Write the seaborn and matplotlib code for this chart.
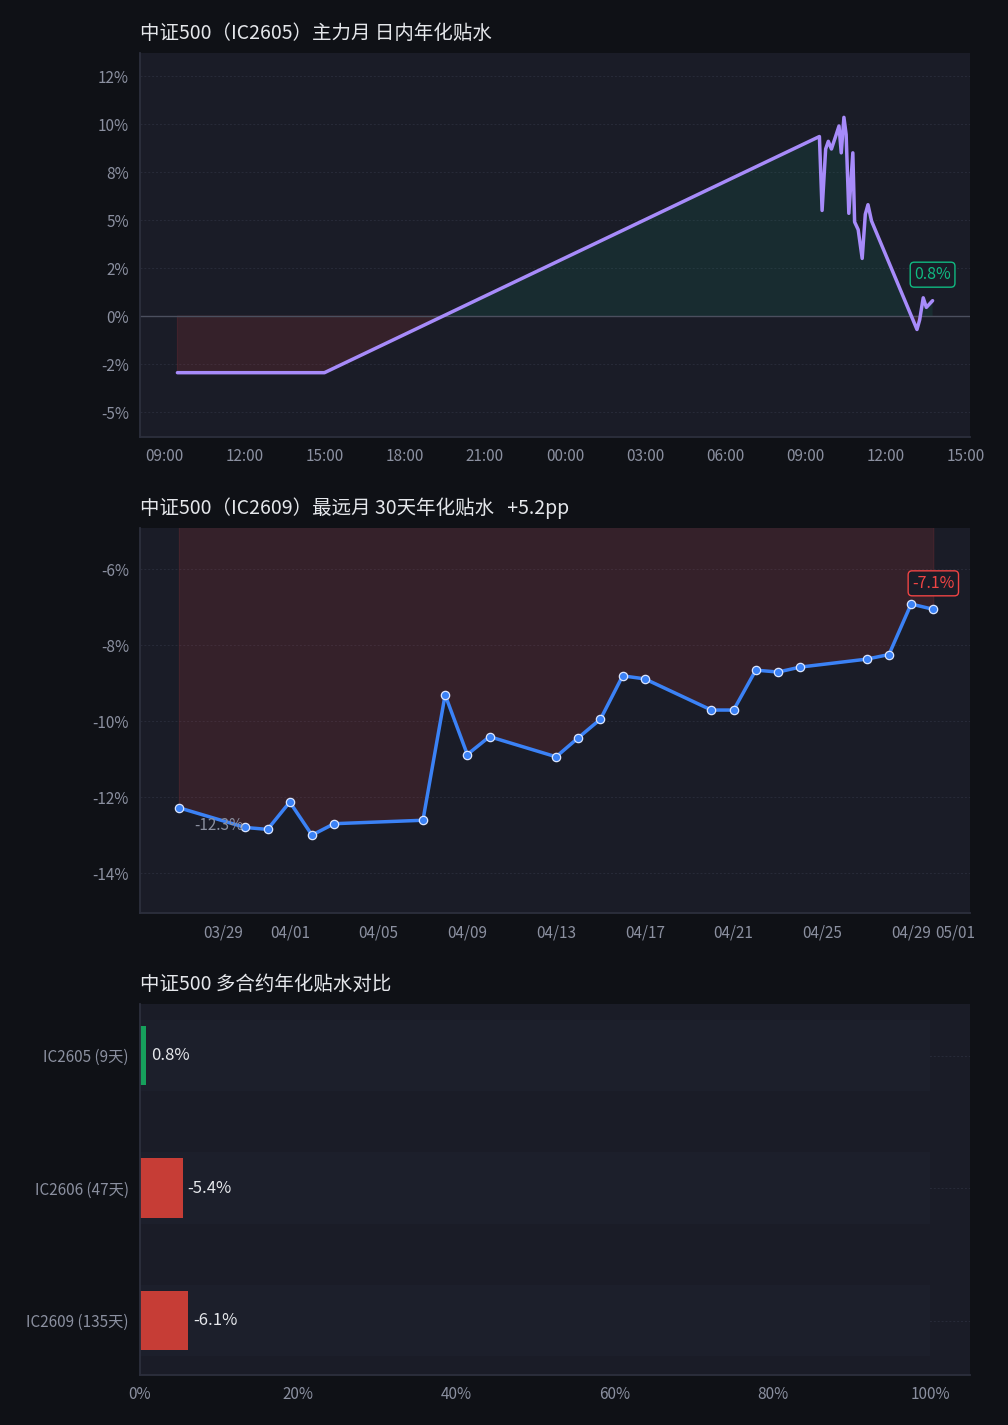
import numpy as np
import pandas as pd
import matplotlib
matplotlib.use("Agg")
import matplotlib.pyplot as plt
import matplotlib.dates as mdates
from matplotlib.ticker import FuncFormatter, FixedLocator
import seaborn as sns

# ---------------- data ----------------
intraday_times = [
    "2026-04-29 09:30", "2026-04-29 15:00",
    "2026-04-30 09:31", "2026-04-30 09:37", "2026-04-30 09:45", "2026-04-30 09:51",
    "2026-04-30 09:58", "2026-04-30 10:08", "2026-04-30 10:15", "2026-04-30 10:20",
    "2026-04-30 10:26", "2026-04-30 10:31", "2026-04-30 10:37", "2026-04-30 10:46",
    "2026-04-30 10:50", "2026-04-30 10:58", "2026-04-30 11:07", "2026-04-30 11:14",
    "2026-04-30 11:20", "2026-04-30 11:28", "2026-04-30 13:10", "2026-04-30 13:16",
    "2026-04-30 13:24", "2026-04-30 13:31", "2026-04-30 13:45",
]
intraday_vals = [
    -2.95, -2.95,
    9.35, 5.50, 8.70, 9.10,
    8.70, 9.40, 9.90, 8.50,
    10.35, 9.45, 5.35, 8.50,
    4.90, 4.50, 3.00, 5.30,
    5.80, 4.95, -0.70, -0.20,
    0.95, 0.45, 0.80,
]

term_dates = [
    "2026-03-27", "2026-03-30", "2026-03-31", "2026-04-01", "2026-04-02", "2026-04-03",
    "2026-04-07", "2026-04-08", "2026-04-09", "2026-04-10", "2026-04-13", "2026-04-14",
    "2026-04-15", "2026-04-16", "2026-04-17", "2026-04-20", "2026-04-21", "2026-04-22",
    "2026-04-23", "2026-04-24", "2026-04-27", "2026-04-28", "2026-04-29", "2026-04-30",
]
term_vals = [
    -12.28, -12.80, -12.85, -12.13, -13.00, -12.70,
    -12.61, -9.31, -10.88, -10.41, -10.94, -10.44,
    -9.95, -8.81, -8.89, -9.71, -9.71, -8.66,
    -8.71, -8.58, -8.37, -8.25, -6.92, -7.06,
]

contracts = ["IC2605 (9天)", "IC2606 (47天)", "IC2609 (135天)"]
contract_vals = [0.8, -5.4, -6.1]

titles = [
    "中证500（IC2605）主力月 日内年化贴水",
    "中证500（IC2609）最远月 30天年化贴水   +5.2pp",
    "中证500 多合约年化贴水对比",
]

# ---------------- style ----------------
FIG_BG = "#0f1116"
AX_BG = "#1a1c27"
GRID = "#282b39"
SPINE = "#2c2f3d"
TICK = "#8b90a0"
TITLE = "#e5e7eb"
PURPLE = "#a78bfa"
BLUE = "#3b82f6"
GREEN = "#10b981"
RED = "#ef4444"
BAR_GREEN = "#16a05c"
BAR_RED = "#c63d36"

sns.set_theme(style="dark")
plt.rcParams["font.family"] = ["Noto Sans CJK SC", "DejaVu Sans"]
plt.rcParams["axes.unicode_minus"] = False

fig = plt.figure(figsize=(10.08, 14.25), dpi=100, facecolor=FIG_BG)
W, H = 1008, 1425
ax1 = fig.add_axes([140 / W, 1 - 437 / H, 830 / W, 384 / H])
ax2 = fig.add_axes([140 / W, 1 - 913 / H, 830 / W, 385 / H])
ax3 = fig.add_axes([140 / W, 1 - 1375 / H, 830 / W, 371 / H])


def style_axes(ax, title):
    ax.set_facecolor(AX_BG)
    for s in ["top", "right"]:
        ax.spines[s].set_visible(False)
    for s in ["left", "bottom"]:
        ax.spines[s].set_visible(True)
        ax.spines[s].set_color(SPINE)
        ax.spines[s].set_linewidth(1.3)
    ax.tick_params(axis="both", length=0, colors=TICK, labelsize=11, pad=8)
    ax.grid(False)
    ax.grid(axis="y", color=GRID, linestyle=(0, (2, 2)), linewidth=0.7)
    ax.set_axisbelow(True)
    ax.set_title(title, loc="left", color=TITLE, fontsize=14, pad=10)
    ax.set_xlabel("")
    ax.set_ylabel("")


pct0 = FuncFormatter(lambda v, p: f"{v:.0f}%")

# ---------------- chart 1: intraday ----------------
df1 = pd.DataFrame({"t": pd.to_datetime(intraday_times), "v": intraday_vals})
v1 = df1["v"].to_numpy()
ax1.fill_between(df1["t"], v1, 0, where=v1 >= 0, interpolate=True,
                 color=GREEN, alpha=0.10, lw=0)
ax1.fill_between(df1["t"], v1, 0, where=v1 <= 0, interpolate=True,
                 facecolor=RED, alpha=0.13, edgecolor=RED, lw=0.8)
ax1.axhline(0, color="#4b4f5e", lw=1, zorder=1)
sns.lineplot(data=df1, x="t", y="v", ax=ax1, color=PURPLE, lw=2.5, zorder=3)
style_axes(ax1, titles[0])
ax1.set_ylim(-6.3, 13.7)
ax1.yaxis.set_major_locator(FixedLocator(np.arange(-5, 12.6, 2.5)))
ax1.yaxis.set_major_formatter(pct0)
ax1.set_xlim(pd.Timestamp("2026-04-29 08:06"), pd.Timestamp("2026-04-30 15:09"))
ax1.xaxis.set_major_locator(mdates.HourLocator(byhour=range(0, 24, 3)))
ax1.xaxis.set_major_formatter(mdates.DateFormatter("%H:%M"))
ax1.annotate(f"{intraday_vals[-1]:.1f}%", xy=(df1["t"].iloc[-1], v1[-1]),
             xytext=(0, 26), textcoords="offset pixels", ha="center", va="center",
             color=GREEN, fontsize=11.5,
             bbox=dict(boxstyle="round,pad=0.25", fc=AX_BG, ec=GREEN, lw=1))

# ---------------- chart 2: 30-day term ----------------
df2 = pd.DataFrame({"d": pd.to_datetime(term_dates), "v": term_vals})
v2 = df2["v"].to_numpy()
ax2.fill_between(df2["d"], v2, 0, facecolor=RED, alpha=0.13, edgecolor=RED, lw=0.8)
sns.lineplot(data=df2, x="d", y="v", ax=ax2, color=BLUE, lw=2.5, marker="o",
             markersize=6, markeredgecolor="#dbe6ff", markeredgewidth=0.9,
             markerfacecolor=BLUE, zorder=3)
style_axes(ax2, titles[1])
ax2.set_ylim(-15.05, -4.92)
ax2.yaxis.set_major_locator(FixedLocator([-14, -12, -10, -8, -6]))
ax2.yaxis.set_major_formatter(pct0)
ax2.set_xlim(pd.Timestamp("2026-03-25 06:00"), pd.Timestamp("2026-05-01 15:40"))
ax2.xaxis.set_major_locator(mdates.DayLocator(bymonthday=[1, 5, 9, 13, 17, 21, 25, 29]))
ax2.xaxis.set_major_formatter(mdates.DateFormatter("%m/%d"))
ax2.annotate(f"{term_vals[0]:.1f}%", xy=(df2["d"].iloc[0], v2[0]),
             xytext=(40, -18), textcoords="offset pixels", ha="center", va="center",
             color=TICK, fontsize=11)
ax2.annotate(f"{term_vals[-1]:.1f}%", xy=(df2["d"].iloc[-1], v2[-1]),
             xytext=(0, 26), textcoords="offset pixels", ha="center", va="center",
             color=RED, fontsize=11.5,
             bbox=dict(boxstyle="round,pad=0.25", fc=AX_BG, ec=RED, lw=1))

# ---------------- chart 3: contracts ----------------
df3 = pd.DataFrame({"c": contracts, "v": contract_vals})
df3["abs"] = df3["v"].abs()
df3["track"] = 100.0
bar_colors = [BAR_GREEN if v >= 0 else BAR_RED for v in contract_vals]
sns.barplot(data=df3, x="track", y="c", ax=ax3, orient="h", color="#1c1f2b",
            width=0.54, saturation=1, linewidth=0, zorder=1)
sns.barplot(data=df3, x="abs", y="c", hue="c", palette=bar_colors, ax=ax3,
            orient="h", width=0.45, saturation=1, legend=False, linewidth=0, zorder=2)
style_axes(ax3, titles[2])
ax3.set_xlim(0, 105)
ax3.set_ylim(2.41, -0.39)
ax3.xaxis.set_major_locator(FixedLocator([0, 20, 40, 60, 80, 100]))
ax3.xaxis.set_major_formatter(pct0)
for i, (a, v) in enumerate(zip(df3["abs"], contract_vals)):
    ax3.text(a + 0.6, i, f"{v:.1f}%", ha="left", va="center", color="#e5e7eb",
             fontsize=12)

fig.savefig("out.png", dpi=100, facecolor=FIG_BG)
